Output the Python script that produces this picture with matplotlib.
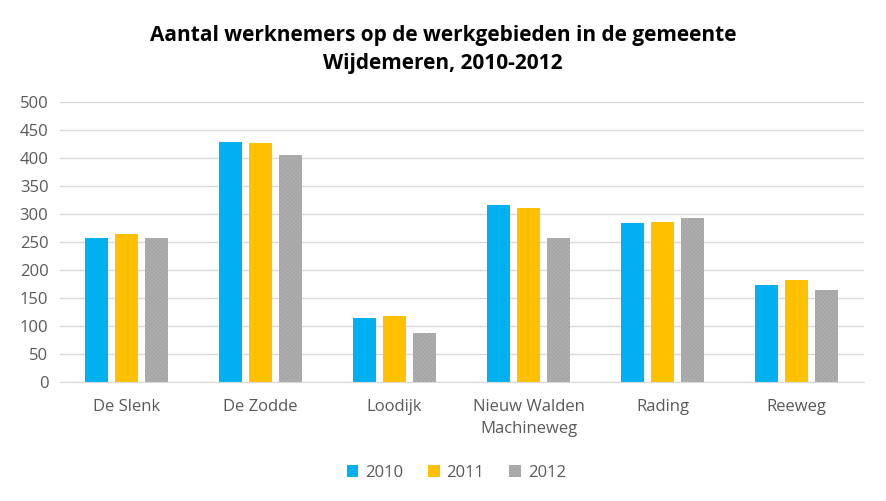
import matplotlib.pyplot as plt
import numpy as np

plt.rcParams['font.family'] = ['Open Sans', 'DejaVu Sans']
plt.rcParams['hatch.linewidth'] = 0.4

categories = ['De Slenk', 'De Zodde', 'Loodijk', 'Nieuw Walden\nMachineweg', 'Rading', 'Reeweg']
years = ['2010', '2011', '2012']
v2010 = [257, 428, 114, 316, 284, 173]
v2011 = [264, 427, 118, 311, 286, 182]
v2012 = [257, 405, 88, 257, 293, 164]

fig = plt.figure(figsize=(8.86, 5.01), dpi=100)
ax = fig.add_axes([0.0672, 0.2375, 0.9075, 0.5585])

x = np.arange(len(categories))
w = 0.172
step = 0.222
ax.bar(x - step, v2010, w, color='#00B0F0', label='2010', zorder=2)
ax.bar(x, v2011, w, color='#FFC000', label='2011', zorder=2)
ax.bar(x + step, v2012, w, color='#AEAEAE', edgecolor='#A3A3A3', hatch='xxxxxxxx',
       linewidth=0, label='2012', zorder=2)

ax.set_ylim(0, 500)
ax.set_xlim(-0.5, len(categories) - 0.5)
ax.set_yticks(range(0, 501, 50))
ax.set_xticks(x)
ax.set_xticklabels(categories, linespacing=1.5)
ax.yaxis.grid(True, color='#D9D9D9', linewidth=1, zorder=0)
ax.set_axisbelow(True)
for s in ['top', 'right', 'left']:
    ax.spines[s].set_visible(False)
ax.spines['bottom'].set_color('#D9D9D9')
ax.tick_params(axis='both', length=0, colors='#595959', labelsize=12)
ax.tick_params(axis='x', pad=12)
ax.tick_params(axis='y', pad=8)

fig.suptitle('Aantal werknemers op de werkgebieden in de gemeente\nWijdemeren, 2010-2012',
             y=0.95, fontsize=15, fontweight='bold', color='black', linespacing=1.45)

fig.legend(loc='lower center', bbox_to_anchor=(0.515, 0.01), ncol=3, frameon=False,
           fontsize=12, handlelength=0.7, handleheight=0.7, columnspacing=1.5,
           handletextpad=0.4, labelcolor='#595959')

plt.savefig('out.png', dpi=100)
